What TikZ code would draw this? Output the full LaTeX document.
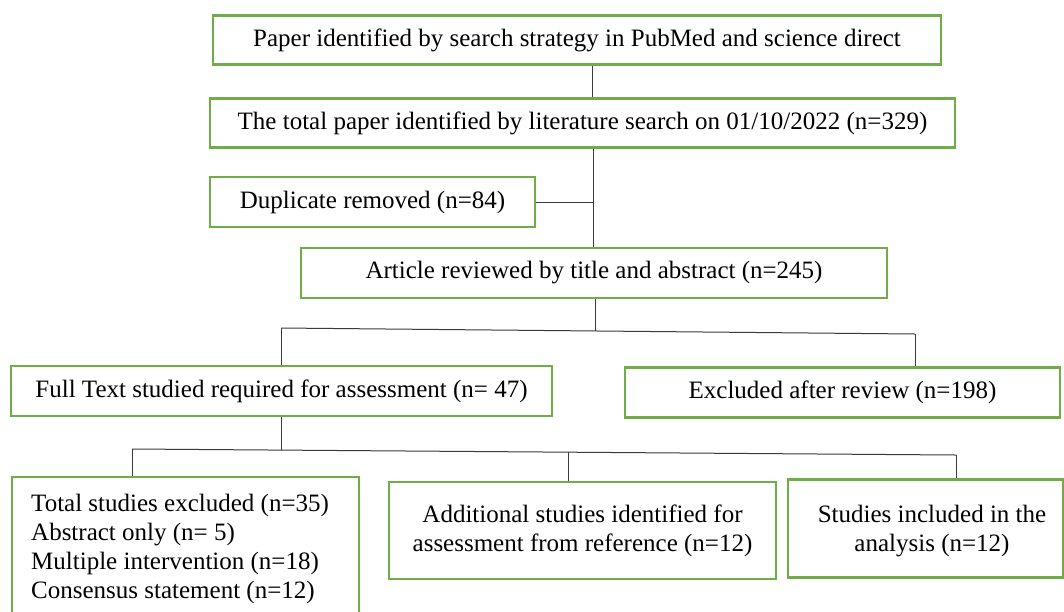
\documentclass[tikz,border=0pt]{standalone}
\usepackage{fontspec}
\setmainfont{Liberation Serif}
\definecolor{boxgreen}{HTML}{70AD47}
\definecolor{linkgray}{HTML}{3A3A3A}
\tikzset{
  box/.style={draw=boxgreen, line width=2.2pt, inner sep=0pt, align=center,
    font=\fontsize{25}{29}\selectfont},
  txt/.style={inner sep=0pt, font=\fontsize{25}{29}\selectfont},
  link/.style={draw=linkgray, line width=1pt},
}
\begin{document}
\begin{tikzpicture}[x=1pt,y=-1pt]
\useasboundingbox (0,0) rectangle (1064,611);
\clip (0,0) rectangle (1064,611);
\fill[white] (0,0) rectangle (1064,611);

\node[box, minimum width=728pt, minimum height=49pt] (b1) at (577,40)
  {Paper identified by search strategy in PubMed and science direct};
\node[box, minimum width=745pt, minimum height=49pt] (b2) at (582.5,123)
  {The total paper identified by literature search on 01/10/2022 (n=329)};
\node[box, minimum width=325pt, minimum height=50pt] (b3) at (372.5,202)
  {Duplicate removed (n=84)};
\node[box, minimum width=586pt, minimum height=50pt] (b4) at (594,273)
  {Article reviewed by title and abstract (n=245)};
\node[box, minimum width=541pt, minimum height=50pt] (b5) at (281.5,391)
  {Full Text studied required for assessment (n= 47)};
\node[box, minimum width=435pt, minimum height=50pt] (b6) at (842.5,392.5)
  {Excluded after review (n=198)};
\node[box, minimum width=347pt, minimum height=174pt] (b7) at (185.5,564) {};
\node[txt, anchor=base west, align=left] (b7t) at (31,598)
  {Total studies excluded (n=35)\\Abstract only (n= 5)\\Multiple intervention (n=18)\\Consensus statement (n=12)};
\node[box, minimum width=387pt, minimum height=97pt] (b8) at (582.5,530.5)
  {Additional studies identified for\\assessment from reference (n=12)};
\node[box, minimum width=275pt, minimum height=98pt] (b9) at (925.5,528.5) {};
\node[txt, align=center] (b9t) at (932,531)
  {Studies included in the\\analysis (n=12)};

% connectors
\coordinate (v1) at (592,0);
\coordinate (v2) at (593.5,0);
\draw[link] (b1.south -| v1) -- (b2.north -| v1);
\draw[link] (b2.south -| v2) -- (b4.north -| v2);
\draw[link] (b3.east) -- (b3.east -| v2);

\coordinate (h1L) at (281,328);
\coordinate (h1R) at (915,334);
\coordinate (h1M) at (595,331);
\draw[link] (b4.south -| h1M) -- (h1M);
\draw[link] (h1L) -- (h1R);
\draw[link] (h1L) -- (b5.north -| h1L);
\draw[link] (h1R) -- (b6.north -| h1R);

\coordinate (h2L) at (132,449);
\coordinate (h2M) at (568,452.2);
\coordinate (h2R) at (956,455);
\coordinate (h2T) at (281,450.1);
\draw[link] (b5.south -| h2T) -- (h2T);
\draw[link] (h2L) -- (h2R);
\draw[link] (h2L) -- (b7.north -| h2L);
\draw[link] (h2M) -- (b8.north -| h2M);
\draw[link] (h2R) -- (b9.north -| h2R);
\end{tikzpicture}
\end{document}
